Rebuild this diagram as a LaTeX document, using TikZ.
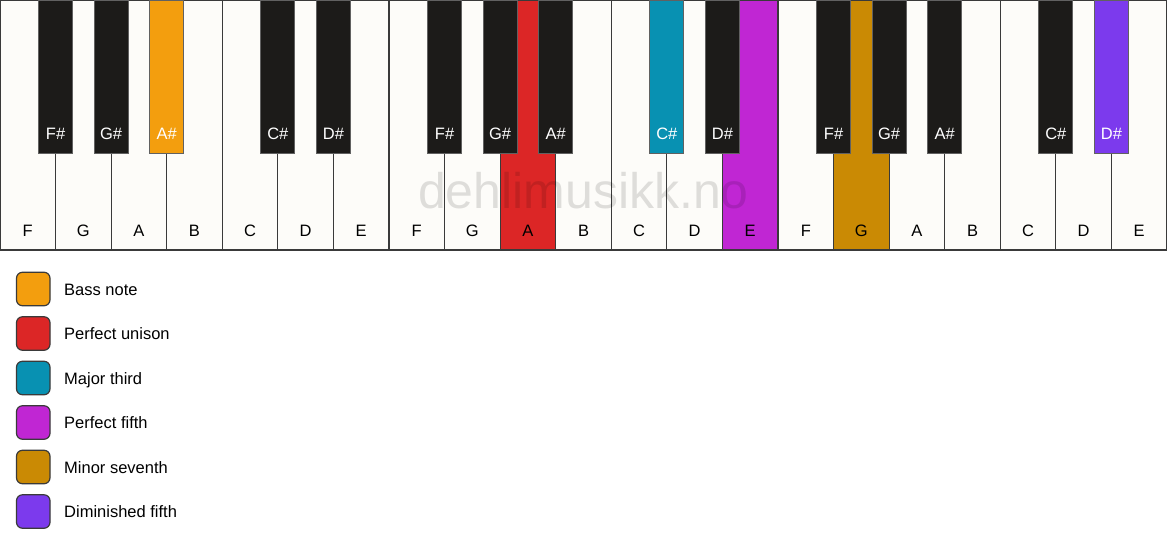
\documentclass[tikz,border=0pt]{standalone}
\usepackage{fontspec}
\setmainfont{Liberation Sans}
\definecolor{keywhite}{HTML}{FDFCF9}
\definecolor{keyblack}{HTML}{1C1B19}
\definecolor{edge}{HTML}{3A3A3A}
\definecolor{cbass}{HTML}{F39E0E}
\definecolor{cunison}{HTML}{DC2626}
\definecolor{cthird}{HTML}{0891B2}
\definecolor{cfifth}{HTML}{C026D3}
\definecolor{cseventh}{HTML}{CA8A04}
\definecolor{cdim}{HTML}{7C3AED}
\tikzset{
  whitekey/.style={draw=edge, line width=1.2pt, fill=keywhite, rectangle, anchor=north west,
    minimum width=55.571pt, minimum height=250pt, inner sep=0pt, outer sep=0pt},
  blackkey/.style={draw=edge!80, line width=1pt, fill=keyblack, rectangle, anchor=north,
    minimum width=34pt, minimum height=153pt, inner sep=0pt, outer sep=0pt},
  wlabel/.style={anchor=base, font=\fontsize{16.5}{20}\selectfont, text=black, inner sep=0pt},
  blabel/.style={anchor=base, font=\fontsize{16.5}{20}\selectfont, text=white, inner sep=0pt},
  legbox/.style={draw=edge, line width=1.2pt, rounded corners=6pt, rectangle,
    minimum width=33.5pt, minimum height=33.5pt, inner sep=0pt},
  legtext/.style={anchor=base west, font=\fontsize{16.5}{20}\selectfont, inner sep=0pt},
  watermark/.style={anchor=base, font=\fontsize{50}{60}\selectfont, text=black, text opacity=0.12, inner sep=0pt}
}
\begin{document}
\begin{tikzpicture}[x=1pt,y=-1pt]
\useasboundingbox[fill=white] (0,0) rectangle (1167,550);
% white keys
\foreach \n [count=\i from 0] in {F,G,A,B,C,D,E,F,G,A,B,C,D,E,F,G,A,B,C,D,E} {
  \def\fc{keywhite}
  \ifnum\i=9 \def\fc{cunison}\fi
  \ifnum\i=13 \def\fc{cfifth}\fi
  \ifnum\i=15 \def\fc{cseventh}\fi
  \node[whitekey, fill=\fc] (w\i) at ({\i*55.571},0) {};
  \node[wlabel] (wl\i) at ({\i*55.571+27.786},236) {\n};
}
% watermark
\node[watermark] (wm) at (583.5,208) {dehlimusikk.no};
% black keys
\foreach \b/\n in {1/F\#,2/G\#,3/A\#,5/C\#,6/D\#,8/F\#,9/G\#,10/A\#,12/C\#,13/D\#,15/F\#,16/G\#,17/A\#,19/C\#,20/D\#} {
  \def\fc{keyblack}
  \ifnum\b=3 \def\fc{cbass}\fi
  \ifnum\b=12 \def\fc{cthird}\fi
  \ifnum\b=20 \def\fc{cdim}\fi
  \node[blackkey, fill=\fc] (b\b) at ({\b*55.571},0) {};
  \node[blabel] (bl\b) at ({\b*55.571},139.5) {\n};
}
% legend
\foreach \c/\t [count=\k from 0] in {cbass/Bass note,cunison/Perfect unison,cthird/Major third,cfifth/Perfect fifth,cseventh/Minor seventh,cdim/Diminished fifth} {
  \node[legbox, fill=\c] (lg\k) at (33.25,{289+\k*44.5}) {};
  \node[legtext] (lt\k) at (64,{295+\k*44.5}) {\t};
}
\end{tikzpicture}
\end{document}
